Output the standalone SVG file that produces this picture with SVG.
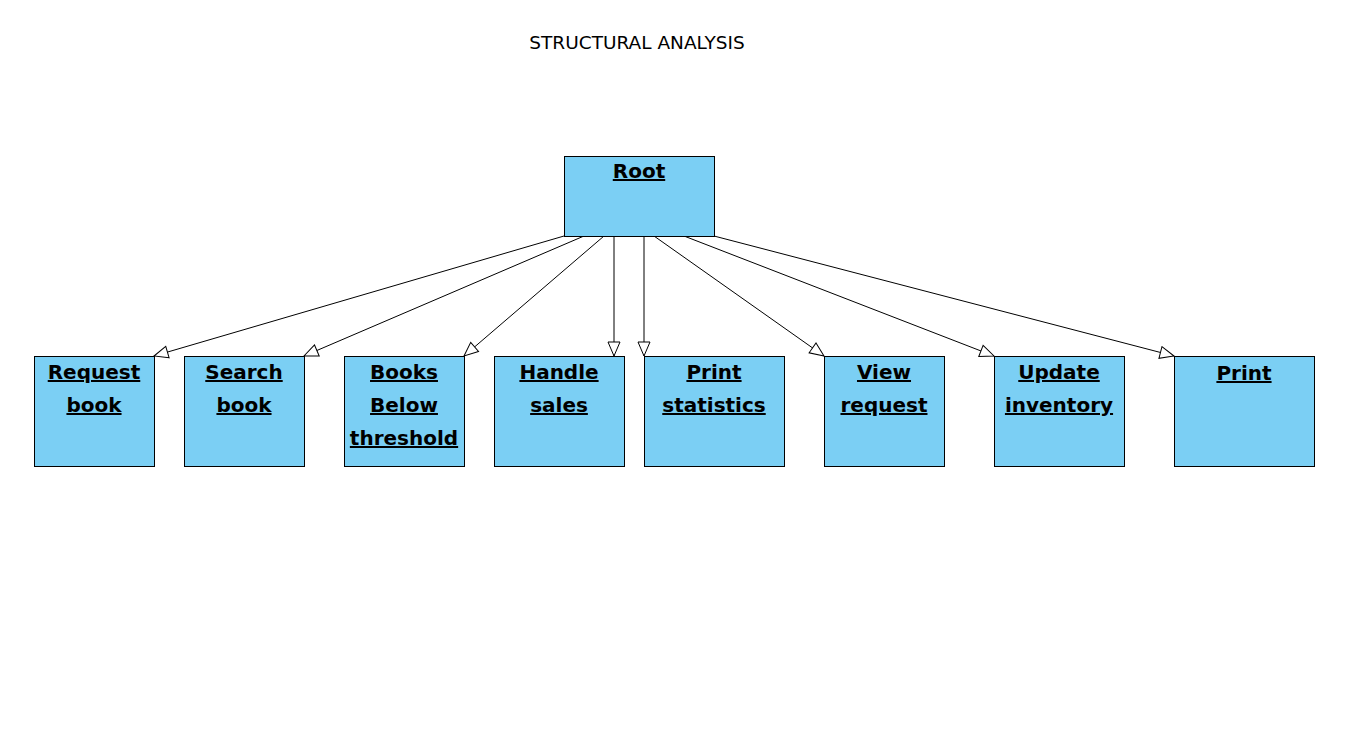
<svg xmlns="http://www.w3.org/2000/svg" width="1345" height="756" viewBox="0 0 1345 756">
<defs>
<style>
.box{fill:#7bcff4;stroke:#000;stroke-width:1}
.lbl{font-family:"DejaVu Sans",Verdana,sans-serif;font-weight:bold;font-size:20px;text-anchor:middle;text-decoration:underline;fill:#000}
.title{font-family:"DejaVu Sans",sans-serif;font-size:18.5px;text-anchor:middle;fill:#000}
.edge{stroke:#000;stroke-width:1;fill:none;marker-end:url(#tri)}
</style>
<marker id="tri" viewBox="0 0 16 14" refX="15" refY="7" markerWidth="16" markerHeight="14" markerUnits="userSpaceOnUse" orient="auto">
<path d="M1,1 L15,7 L1,13 Z" fill="#fff" stroke="#000" stroke-width="1"/>
</marker>
</defs>
<rect width="1345" height="756" fill="#fff"/>
<text class="title" x="637" y="49">STRUCTURAL ANALYSIS</text>
<g id="connectors">
<line class="edge" x1="564" y1="236" x2="154" y2="356"/>
<line class="edge" x1="584" y1="236" x2="304" y2="356"/>
<line class="edge" x1="604" y1="236" x2="464" y2="356"/>
<line class="edge" x1="614" y1="236" x2="614" y2="356"/>
<line class="edge" x1="644" y1="236" x2="644" y2="356"/>
<line class="edge" x1="654" y1="236" x2="824" y2="356"/>
<line class="edge" x1="684" y1="236" x2="994" y2="356"/>
<line class="edge" x1="714" y1="236" x2="1174" y2="356"/>
</g>
<g id="root"><rect class="box" x="564.5" y="156.5" width="150" height="80"/><text class="lbl" x="639" y="178">Root</text></g>
<g id="request-book"><rect class="box" x="34.5" y="356.5" width="120" height="110"/><text class="lbl" x="94" y="379">Request</text><text class="lbl" x="94" y="412">book</text></g>
<g id="search-book"><rect class="box" x="184.5" y="356.5" width="120" height="110"/><text class="lbl" x="244" y="379">Search</text><text class="lbl" x="244" y="412">book</text></g>
<g id="books-below"><rect class="box" x="344.5" y="356.5" width="120" height="110"/><text class="lbl" x="404" y="379">Books</text><text class="lbl" x="404" y="412">Below</text><text class="lbl" x="404" y="445">threshold</text></g>
<g id="handle-sales"><rect class="box" x="494.5" y="356.5" width="130" height="110"/><text class="lbl" x="559" y="379">Handle</text><text class="lbl" x="559" y="412">sales</text></g>
<g id="print-statistics"><rect class="box" x="644.5" y="356.5" width="140" height="110"/><text class="lbl" x="714" y="379">Print</text><text class="lbl" x="714" y="412">statistics</text></g>
<g id="view-request"><rect class="box" x="824.5" y="356.5" width="120" height="110"/><text class="lbl" x="884" y="379">View</text><text class="lbl" x="884" y="412">request</text></g>
<g id="update-inventory"><rect class="box" x="994.5" y="356.5" width="130" height="110"/><text class="lbl" x="1059" y="379">Update</text><text class="lbl" x="1059" y="412">inventory</text></g>
<g id="print"><rect class="box" x="1174.5" y="356.5" width="140" height="110"/><text class="lbl" x="1244" y="380">Print</text></g>
</svg>
